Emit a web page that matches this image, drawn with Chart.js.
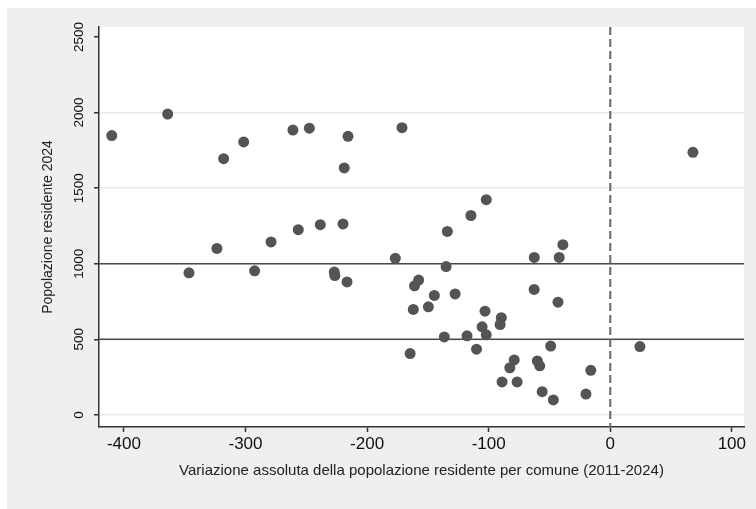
<!DOCTYPE html>
<html>
<head>
<meta charset="utf-8">
<script src="https://cdn.jsdelivr.net/npm/chart.js@4.4.1/dist/chart.umd.min.js"></script>
<style>
  html, body { margin: 0; padding: 0; background: #fff; }
</style>
</head>
<body>
<canvas id="c" width="756" height="509"></canvas>
<script>
// variazione assoluta 2011-2024 (x) and popolazione 2024 (y), one entry per comune
const variazione = [
  -410, -364, -318, -301.5, -323.5, -279, -346.5, -292.5, -261, -247.5,
  -215.7, -218.8, -171.3, -256.6, -238.5, -219.8, -134, -176.8, -227, -226.5,
  -216.5, -135, -114.6, -102, -157.6, -161, -144.7, -127.6, -39, -62.5,
  -42, -62.6, -43, -162, -149.6, -103, -89.6, -90.6, -105.4, -102,
  -136.5, -117.8, -110, -164.6, -49, 24.4, -79, -82.6, -60, -58,
  -16, -89, -76.6, -56, -46.8, -20, 68
];
const popolazione = [
  1848, 1990, 1695, 1806, 1101, 1144, 940, 953, 1884, 1897,
  1843, 1634, 1900, 1225, 1258, 1263, 1214, 1036, 945, 922,
  880, 981, 1319, 1424, 892, 854, 790, 800, 1126, 1042,
  1042, 830, 746, 698, 715, 686, 643, 598, 583, 530,
  516, 523, 435, 406, 455, 452, 364, 312, 357, 325,
  295, 218, 218, 154, 99, 138, 1737
];
const xTicks = [-400, -300, -200, -100, 0, 100];
const yTicks = [0, 500, 1000, 1500, 2000, 2500];
const hLines = [500, 1000];
const vLines = [0];

const points = variazione.map((v, i) => ({ x: v, y: popolazione[i] }));

// grey graph region + white plot region
const bgPlugin = {
  id: 'bg',
  beforeDraw(chart) {
    const { ctx, chartArea: a } = chart;
    ctx.save();
    ctx.fillStyle = '#efefef';
    ctx.fillRect(7, 8, chart.width - 7, chart.height - 8);
    ctx.fillStyle = '#ffffff';
    ctx.fillRect(a.left, a.top, a.right - a.left, a.bottom - a.top);
    ctx.restore();
  }
};

// reference lines (yline 500 1000, xline 0 dashed)
const refLines = {
  id: 'refLines',
  beforeDatasetsDraw(chart) {
    const { ctx, chartArea: a, scales } = chart;
    ctx.save();
    ctx.strokeStyle = '#4a4a4a';
    ctx.lineWidth = 1.6;
    hLines.forEach(v => {
      const y = scales.y.getPixelForValue(v);
      ctx.beginPath();
      ctx.moveTo(a.left, y);
      ctx.lineTo(a.right, y);
      ctx.stroke();
    });
    ctx.strokeStyle = '#666666';
    ctx.lineWidth = 2;
    ctx.setLineDash([8, 4]);
    vLines.forEach(v => {
      const x = scales.x.getPixelForValue(v);
      ctx.beginPath();
      ctx.moveTo(x, a.top);
      ctx.lineTo(x, a.bottom);
      ctx.stroke();
    });
    ctx.restore();
  }
};

const font = "'Liberation Sans', Arial, Helvetica, sans-serif";

new Chart(document.getElementById('c'), {
  type: 'scatter',
  data: {
    datasets: [{
      data: points,
      pointRadius: 5.5,
      pointBackgroundColor: '#545454',
      pointBorderWidth: 0,
      pointHoverRadius: 5.5
    }]
  },
  options: {
    responsive: false,
    animation: false,
    layout: { padding: { top: 27, right: 12, left: 0, bottom: 0 } },
    plugins: {
      legend: { display: false },
      tooltip: { enabled: false }
    },
    scales: {
      x: {
        type: 'linear',
        min: -420.5,
        max: 110,
        afterBuildTicks: s => { s.ticks = xTicks.map(v => ({ value: v })); },
        afterFit: s => { s.height = 82; },
        border: { display: true, color: '#333', width: 1.5 },
        grid: { drawOnChartArea: false, drawTicks: true, tickLength: 5, tickColor: '#333', tickWidth: 1.5 },
        ticks: { color: '#111', padding: 2, font: { family: font, size: 17 }, callback: v => String(v) },
        title: {
          display: true,
          text: 'Variazione assoluta della popolazione residente per comune (2011-2024)',
          color: '#222',
          font: { family: font, size: 15 },
          padding: { top: 0, bottom: 29 }
        }
      },
      y: {
        type: 'linear',
        min: -80,
        max: 2566,
        afterBuildTicks: s => { s.ticks = yTicks.map(v => ({ value: v })); },
        afterFit: s => { s.width = 99; },
        border: { display: true, color: '#333', width: 1.5 },
        grid: {
          color: c => (c.tick && c.tick.value === 2500) ? 'rgba(0,0,0,0)' : '#e8e8e8',
          lineWidth: 1.5,
          drawTicks: true,
          tickLength: 5,
          tickColor: '#333',
          tickWidth: 1.5
        },
        ticks: {
          color: '#111',
          padding: 0,
          minRotation: 90,
          maxRotation: 90,
          crossAlign: 'center',
          font: { family: font, size: 13.5 },
          callback: v => String(v)
        },
        title: {
          display: true,
          text: 'Popolazione residente 2024',
          color: '#222',
          font: { family: font, size: 14 },
          padding: { top: 40, bottom: 0 }
        }
      }
    }
  },
  plugins: [bgPlugin, refLines]
});
</script>
</body>
</html>
